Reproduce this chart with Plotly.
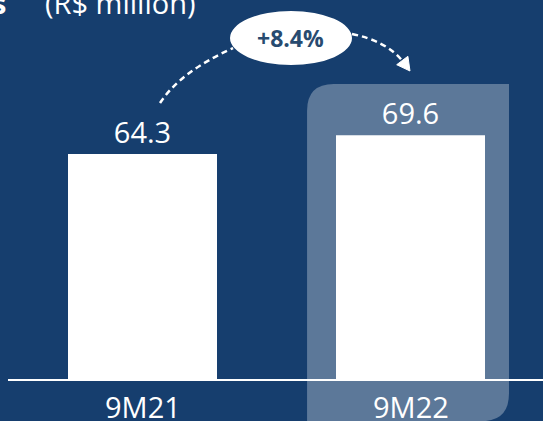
import plotly.graph_objects as go

# ---- data ----
categories = ["9M21", "9M22"]
values = [64.3, 69.6]
value_labels = ["64.3", "69.6"]
growth_label = "+8.4%"
title_text = "(R$ million)"

BG = "#163e6e"
FONT = "Open Sans"

fig = go.Figure()
xpos = list(range(len(categories)))
fig.add_trace(go.Bar(
    x=xpos, y=values, width=0.556,
    marker=dict(color="white", line=dict(width=0)),
    text=value_labels, textposition="outside", cliponaxis=False,
    textfont=dict(family=FONT, size=29, color="white"),
    hoverinfo="skip",
))

# highlight panel behind 9M22 (data coords)
x0, x1 = 0.614, 1.3675
yt, yb = 84.2, -11.7
rx1, ry1 = 0.10, 7.6
rx2, ry2 = 0.10, 7.9
hl_path = (f"M {x0},{yb} L {x0},{yt-ry1} Q {x0},{yt} {x0+rx1},{yt} "
           f"L {x1},{yt} L {x1},{yb+ry2} Q {x1},{yb} {x1-rx2},{yb} Z")
fig.add_shape(type="path", path=hl_path, xref="x", yref="y", layer="below",
              fillcolor="rgba(255,255,255,0.30)", line=dict(width=0))

# dashed arcs
dash = "6px,4px"
fig.add_shape(type="path", xref="x", yref="y",
              path="M 0.0653,78.8 Q 0.140,87.6 0.338,94.45",
              line=dict(color="white", width=2.5, dash=dash))
fig.add_shape(type="path", xref="x", yref="y",
              path="M 0.7817,98.44 Q 0.9086,96.44 0.9683,90.9",
              line=dict(color="white", width=2.5, dash=dash))
fig.add_shape(type="path", xref="x", yref="y",
              path="M 0.9981,87.91 L 0.9485,89.70 L 0.9903,92.09 Z",
              fillcolor="white", line=dict(color="white", width=1))
# ellipse
fig.add_shape(type="circle", xref="x", yref="y",
              x0=0.3265, x1=0.7817, y0=89.6, y1=105.0,
              fillcolor="white", line=dict(width=0))
fig.add_annotation(x=0.554, y=97.4, xref="x", yref="y", text=f"<b>{growth_label}</b>",
                   showarrow=False, font=dict(family=FONT, size=23, color="#284b70"))

# category labels
for xi, c in zip(xpos, categories):
    fig.add_annotation(x=xi, y=-7.4, xref="x", yref="y", text=c, showarrow=False,
                       yanchor="middle", font=dict(family=FONT, size=29, color="white"))

# title (partially cut)
fig.add_annotation(x=(43 - 8) / 535, y=0.9938, xref="paper", yref="paper", text=title_text,
                   showarrow=False, xanchor="left", yanchor="middle",
                   font=dict(family=FONT, size=29, color="white"))
fig.add_annotation(x=0.0, y=0.9938, xref="paper", yref="paper", text="<b>s</b>",
                   showarrow=False, xanchor="right", yanchor="middle",
                   font=dict(family=FONT, size=29, color="white"))

fig.update_layout(
    width=543, height=421,
    margin=dict(l=8, r=0, t=0, b=0),
    paper_bgcolor=BG, plot_bgcolor=BG,
    showlegend=False,
    xaxis=dict(range=[-0.5019, 1.4944], visible=False, fixedrange=True),
    yaxis=dict(range=[-11.66, 108.11], showgrid=False, showticklabels=False,
               zeroline=True, zerolinecolor="white", zerolinewidth=2, fixedrange=True),
)

fig.write_html("out.html", config={"displayModeBar": False})
